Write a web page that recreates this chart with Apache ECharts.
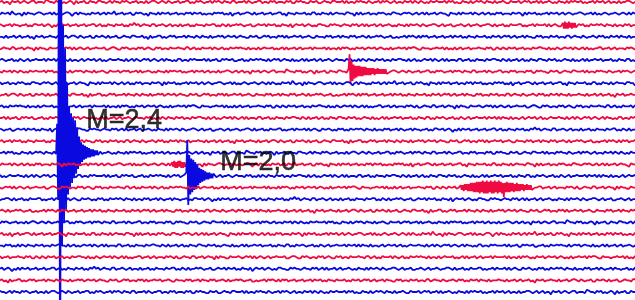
<!DOCTYPE html>
<html>
<head>
<meta charset="utf-8">
<script src="https://cdn.jsdelivr.net/npm/echarts@6/dist/echarts.min.js"></script>
<style>html,body{margin:0;padding:0;background:#fff}#c{width:635px;height:300px}</style>
</head>
<body>
<div id="c"></div>
<script>
// noise per trace (digit 4 = baseline), one sample every 2 time units
const noise = [
"4354463443 5434543354 4452344534 3545434635 4435534453 3445435344 5343454435 4453543345 4345345443 5443354534 3454435343 4534453354 4435345443 3544534354 4453435534 3445534435 5434453344 4353544534 3445345443 5343454354 4534435345 3454534434 4435343545 5344535434 3453445354 4345534443 5434354435 3544345453 4453534344 3545443534 4354354453 5443345435",
"5344352454 4635344543 3454435354 4543346435 3445453443 5435344254 4354435534 3454634453 5344354435 4453435344 3545445343 4354536443 5443345354 4354435443 3546344534 4435453354 5344535434 4453344635 3544354453 4345453344 5434345435 4353544354 3445634453 5344435345 4354354534 3544453443 4635344354 5443534435 4354345443 3454435354 5434544345 4345353454",
"3454435344 5443545334 4354346453 5344354435 4435443354 3545344534 4354534243 5434453354 4345435445 3544354534 4453443354 5345354434 3454435543 4435344354 5344536434 4354345453 3445534344 5434453435 4353544354 3544345453 4453534434 5345443345 4354435544 3454354434 5443345354 4354534443 3545443534 4435354345 5344345453 4354534434 3453445354 4534354435",
"4453544354 3544354634 4354434453 5443543345 3454435534 4345354435 5434453344 4354635443 3545434354 4435344534 5344535443 4354344354 3445534435 5434354453 4353544344 3544345534 4453435443 5344534354 4345354434 3454435545 4435343453 5343544354 4354435344 3545344534 4435453443 5434354354 4353445534 3544534435 4453354344 5345443453 4354534435 3445354443",
"5434453354 4354344635 3445534443 4543435354 3454354434 4435543345 5343454453 4354345534 3544534443 4453354354 5344435345 4354534434 3445354453 5434443545 4353544354 3544435344 4435354453 5343454534 4354344354 3454535443 4435343345 5344454434 4353545354 3544354443 4453435534 5345344354 4354453443 3445354534 5434435345 4353545443 3544354354 4453434535",
"4345443545 3454354434 4435344353 5344535445 4354344354 3545434443 4453543534 5434354345 4353445453 3544534344 4435354435 5343443554 4354534434 3445354343 5434453545 4353544354 3544345434 4453435453 5345344534 4354453443 3445354354 5434435345 4353544453 3544354534 4453443344 5345354435 4354534453 3445344354 5434453545 4353544344 3544435453 4453354534",
"4534435345 3454534434 4435343545 5344535434 3453445354 4345534443 5434354435 3544345453 4453534344 3545443534 4354354453 5443345435 4354463443 5434543354 4452344534 3545434635 4435534453 3445435344 5343454435 4453543345 4345345443 5443354534 3454435343 4534453354 4435345443 3544534354 4453435534 3445534435 5434453344 4353544534 3445345443 5343454354",
"3544354453 4345453344 5434345435 4353544354 3445634453 5344435345 4354354534 3544453443 4635344354 5443534435 4354345443 3454435354 5434544345 4345353454 5344352454 4635344543 3454435354 4543346435 3445453443 5435344254 4354435534 3454634453 5344354435 4453435344 3545445343 4354536443 5443345354 4354435443 3546344534 4435453354 5344535434 4453344635",
"5443543345 3454435534 4345354435 5434453344 4354635443 3545434354 4435344534 5344535443 4354344354 3445534435 5434354453 4353544344 3544345534 4453435443 5344534354 4345354434 3454435545 4435343453 5343544354 4354435344 3545344534 4435453443 5434354354 4353445534 3544534435 4453354344 5345443453 4354534435 3445354443 4453544354 3544354634 4354434453",
"4354534434 3445354453 5434443545 4353544354 3544435344 4435354453 5343454534 4354344354 3454535443 4435343345 5344454434 4353545354 3544354443 4453435534 5345344354 4354453443 3445354534 5434435345 4353545443 3544354354 4453434535 5434453354 4354344635 3445534443 4543435354 3454354434 4435543345 5343454453 4354345534 3544534443 4453354354 5344435345",
"4435354435 5343443554 4354534434 3445354343 5434453545 4353544354 3544345434 4453435453 5345344534 4354453443 3445354354 5434435345 4353544453 3544354534 4453443344 5345354435 4354534453 3445344354 5434453545 4353544344 3544435453 4453354534 4345443545 3454354434 4435344353 5344535445 4354344354 3545434443 4453543534 5434354345 4353445453 3544534344",
"3454435543 4435344354 5344536434 4354345453 3445534344 5434453435 4353544354 3544345453 4453534434 5345443345 4354435544 3454354434 5443345354 4354534443 3545443534 4435354345 5344345453 4354534434 3453445354 4534354435 3454435344 5443545334 4354346453 5344354435 4435443354 3545344534 4354534243 5434453354 4345435445 3544354534 4453443354 5345354434",
"4354435344 3545344534 4435453443 5434354354 4353445534 3544534435 4453354344 5345443453 4354534435 3445354443 4453544354 3544354634 4354434453 5443543345 3454435534 4345354435 5434453344 4354635443 3545434354 4435344534 5344535443 4354344354 3445534435 5434354453 4353544344 3544345534 4453435443 5344534354 4345354434 3454435545 4435343453 5343544354",
"4435343545 5344535434 3453445354 4345534443 5434354435 3544345453 4453534344 3545443534 4354354453 5443345435 4354463443 5434543354 4452344534 3545434635 4435534453 3445435344 5343454435 4453543345 4345345443 5443354534 3454435343 4534453354 4435345443 3544534354 4453435534 3445534435 5434453344 4353544534 3445345443 5343454354 4534435345 3454534434",
"5344435345 4354354534 3544453443 4635344354 5443534435 4354345443 3454435354 5434544345 4345353454 5344352454 4635344543 3454435354 4543346435 3445453443 5435344254 4354435534 3454634453 5344354435 4453435344 3545445343 4354536443 5443345354 4354435443 3546344534 4435453354 5344535434 4453344635 3544354453 4345453344 5434345435 4353544354 3445634453",
"3545434443 4453543534 5434354345 4353445453 3544534344 4435354435 5343443554 4354534434 3445354343 5434453545 4353544354 3544345434 4453435453 5345344534 4354453443 3445354354 5434435345 4353544453 3544354534 4453443344 5345354435 4354534453 3445344354 5434453545 4353544344 3544435453 4453354534 4345443545 3454354434 4435344353 5344535445 4354344354",
"4543435354 3454354434 4435543345 5343454453 4354345534 3544534443 4453354354 5344435345 4354534434 3445354453 5434443545 4353544354 3544435344 4435354453 5343454534 4354344354 3454535443 4435343345 5344454434 4353545354 3544354443 4453435534 5345344354 4354453443 3445354534 5434435345 4353545443 3544354354 4453434535 5434453354 4354344635 3445534443",
"5443345354 4354534443 3545443534 4435354345 5344345453 4354534434 3453445354 4534354435 3454435344 5443545334 4354346453 5344354435 4435443354 3545344534 4354534243 5434453354 4345435445 3544354534 4453443354 5345354434 3454435543 4435344354 5344536434 4354345453 3445534344 5434453435 4353544354 3544345453 4453534434 5345443345 4354435544 3454354434",
"4345354434 3454435545 4435343453 5343544354 4354435344 3545344534 4435453443 5434354354 4353445534 3544534435 4453354344 5345443453 4354534435 3445354443 4453544354 3544354634 4354434453 5443543345 3454435534 4345354435 5434453344 4354635443 3545434354 4435344534 5344535443 4354344354 3445534435 5434354453 4353544344 3544345534 4453435443 5344534354",
"5343454435 4453543345 4345345443 5443354534 3454435343 4534453354 4435345443 3544534354 4453435534 3445534435 5434453344 4353544534 3445345443 5343454354 4534435345 3454534434 4435343545 5344535434 3453445354 4345534443 5434354435 3544345453 4453534344 3545443534 4354354453 5443345435 4354463443 5434543354 4452344534 3545434635 4435534453 3445435344",
"4354536443 5443345354 4354435443 3546344534 4435453354 5344535434 4453344635 3544354453 4345453344 5434345435 4353544354 3445634453 5344435345 4354354534 3544453443 4635344354 5443534435 4354345443 3454435354 5434544345 4345353454 5344352454 4635344543 3454435354 4543346435 3445453443 5435344254 4354435534 3454634453 5344354435 4453435344 3545445343",
"4453435453 5345344534 4354453443 3445354354 5434435345 4353544453 3544354534 4453443344 5345354435 4354534453 3445344354 5434453545 4353544344 3544435453 4453354534 4345443545 3454354434 4435344353 5344535445 4354344354 3545434443 4453543534 5434354345 4353445453 3544534344 4435354435 5343443554 4354534434 3445354343 5434453545 4353544354 3544345434",
"3544354443 4453435534 5345344354 4354453443 3445354534 5434435345 4353545443 3544354354 4453434535 5434453354 4354344635 3445534443 4543435354 3454354434 4435543345 5343454453 4354345534 3544534443 4453354354 5344435345 4354534434 3445354453 5434443545 4353544354 3544435344 4435354453 5343454534 4354344354 3454535443 4435343345 5344454434 4353545354",
"4354346453 5344354435 4435443354 3545344534 4354534243 5434453354 4345435445 3544354534 4453443354 5345354434 3454435543 4435344354 5344536434 4354345453 3445534344 5434453435 4353544354 3544345453 4453534434 5345443345 4354435544 3454354434 5443345354 4354534443 3545443534 4435354345 5344345453 4354534434 3453445354 4534354435 3454435344 5443545334",
"4354635443 3545434354 4435344534 5344535443 4354344354 3445534435 5434354453 4353544344 3544345534 4453435443 5344534354 4345354434 3454435545 4435343453 5343544354 4354435344 3545344534 4435453443 5434354354 4353445534 3544534435 4453354344 5345443453 4354534435 3445354443 4453544354 3544354634 4354434453 5443543345 3454435534 4345354435 5434453344",
"3445435344 5343454435 4453543345 4345345443 5443354534 3454435343 4534453354 4435345443 3544534354 4453435534 3445534435 5434453344 4353544534 3445345443 5343454354 4534435345 3454534434 4435343545 5344535434 3453445354 4345534443 5434354435 3544345453 4453534344 3545443534 4354354453 5443345435 4354463443 5434543354 4452344534 3545434635 4435534453"
];

// events: amplitude per time unit, relative to trace baseline (negative = up)
const eventM24 = [-25,40,-260,260,-200,80,-110,60,-90,50,-60,36,-40,30,-34,26,-30,22,-28,18,-22,14,-14,10,-9,8,-7,6,-6,5,-5,4,-4,4,-3,3,-3,3,-2,2,-2,2];
const eventM20 = [-3,-31,25,-18,16,-15,14,-14,12,-12,10,-10,8,-7,6,-6,5,-5,4,-4,3,-3,3,-3,2,-2,2,-2];
const eventRedA = [-2,-15,10,-9,8,-6,6,-5,5,-5,4,-5,4,-4,4,-4,3,-4,3,-3,3,-3,3,-3,2,-3,3,-2,2,-3,2,-2,2,-2,2,-2,2,-2,2];
const eventSpindle = [-2,2,-2,3,-3,2,-3,3,-3,3,-4,3,-4,4,-4,4,-5,4,-5,5,-5,4,-6,5,-5,5,-6,5,-5,4,-6,5,-5,5,-6,4,-5,5,-6,4,-5,5,-4,8,-4,4,-5,4,-4,4,-4,3,-4,4,-3,3,-4,3,-3,3,-3,2,-3,3,-2,2,-3,2,-2,2,-2,2];
const eventSmall = [-2,3,-3,3,-2,3,-3,2,-2,3,-2,2,-2,2];
const eventPre = [-2,2,-3,3,-2,3,-3,2,-3,3,-2,3,-2,2];

const eventTrace = [13, 15, 6, 16, 2, 14];
const eventStart = [57, 186, 348, 460, 562, 172];
const eventData = [eventM24, eventM20, eventRedA, eventSpindle, eventSmall, eventPre];

const labelText = ['M=2,4', 'M=2,0'];
const labelTime = [86, 220];
const labelLevel = [102.5, 138.6];

const SPACING = 10;
const series = [];
for (let k = 0; k < noise.length; k++) {
  const digits = noise[k].replace(/ /g, '');
  const evIdx = [];
  eventTrace.forEach((t, i) => { if (t === k) evIdx.push(i); });
  const pts = [];
  for (let i = 0; i < digits.length; i++) {
    const x = 2 * i;
    let inside = false;
    evIdx.forEach(e => { if (x >= eventStart[e] && x < eventStart[e] + eventData[e].length) inside = true; });
    if (!inside) pts.push([x, k * SPACING + (Number(digits[i]) - 4)]);
  }
  evIdx.forEach(e => {
    eventData[e].forEach((v, j) => pts.push([eventStart[e] + j, k * SPACING + v]));
  });
  pts.sort((a, b) => a[0] - b[0]);
  series.push({
    type: 'line', data: pts, showSymbol: false, symbol: 'none', clip: true,
    lineStyle: { color: k % 2 === 0 ? '#f00a42' : '#0a0ae0', width: 1.8 },
    silent: true, animation: false
  });
}
series.push({
  type: 'scatter', symbolSize: 0, animation: false, silent: true,
  data: labelText.map((t, i) => ({ value: [labelTime[i], labelLevel[i]], name: t })),
  label: { show: true, position: 'inside', align: 'left', verticalAlign: 'middle',
    formatter: p => p.name, color: '#000', fontSize: 27,
    textBorderColor: '#000', textBorderWidth: 0.5,
    fontFamily: 'Liberation Sans, Arial, sans-serif' },
  z: 10
});

const chart = echarts.init(document.getElementById('c'), null, { renderer: 'canvas' });
chart.setOption({
  backgroundColor: '#ffffff',
  animation: false,
  grid: { left: 0, right: 0, top: 0, bottom: 0 },
  xAxis: { type: 'value', min: 0, max: 634, show: false },
  yAxis: { type: 'value', inverse: true, min: -1.72, max: 256.9, show: false },
  series: series
});
</script>
</body>
</html>
